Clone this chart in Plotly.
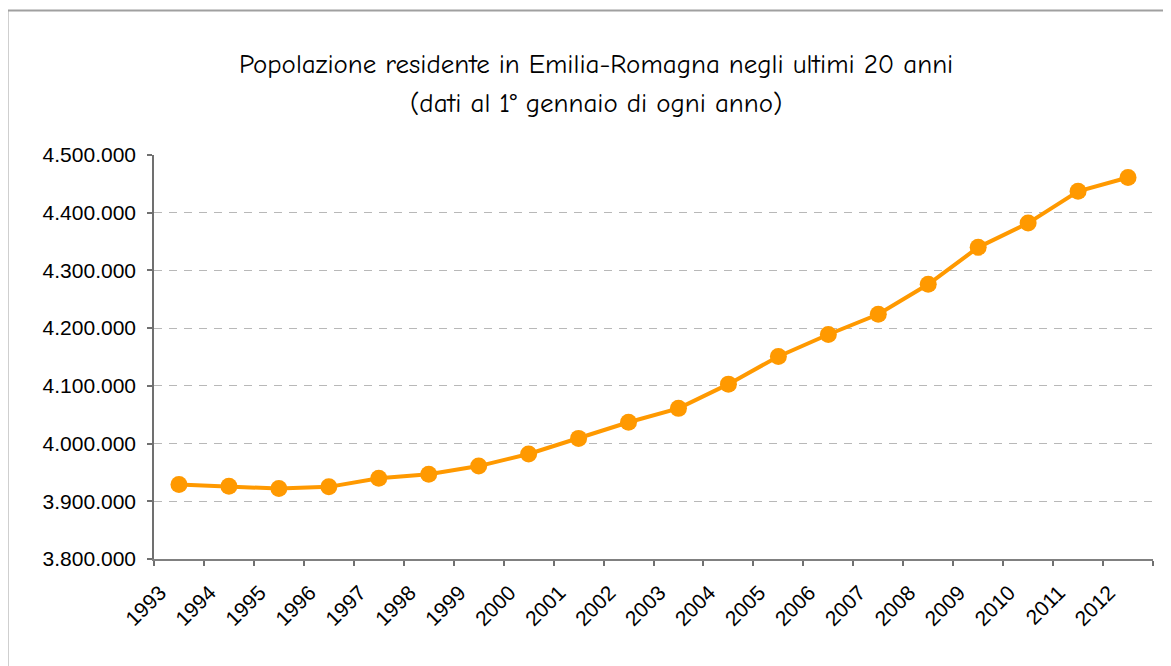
import plotly.graph_objects as go

years = [str(y) for y in range(1993, 2013)]
population = [3929000, 3926000, 3922000, 3925000, 3940000, 3947000, 3961000, 3982000,
              4009000, 4037000, 4061000, 4103000, 4151000, 4189000, 4224000, 4276000,
              4340000, 4382000, 4437000, 4461000]
y_ticks = [3800000, 3900000, 4000000, 4100000, 4200000, 4300000, 4400000, 4500000]
title_lines = ["Popolazione residente in Emilia-Romagna negli ultimi 20 anni",
               "(dati al 1° gennaio di ogni anno)"]

OFF = 8  # page body margin
W, H = 1171 - OFF, 666 - OFF
L, R, T, B = 154 - OFF, 18, 155 - OFF, 107
pw, ph = W - L - R, H - T - B

def px(x):
    return (x - OFF - L) / pw

def py(y):
    return (H - B - (y - OFF)) / ph

fig = go.Figure()
fig.add_trace(go.Scatter(
    x=years, y=population, mode="lines+markers",
    line=dict(color="#FF9900", width=4),
    marker=dict(color="#FF9900", size=17),
    hoverinfo="x+y", showlegend=False,
))

fig.update_layout(
    width=W, height=H,
    margin=dict(l=L, r=R, t=T, b=B, pad=0),
    paper_bgcolor="white", plot_bgcolor="white",
    separators=",.",
    font=dict(family="Liberation Sans, Arial, sans-serif", size=21, color="black"),
    xaxis=dict(
        type="category", range=[-0.5, 19.5],
        tickson="boundaries", ticks="outside", ticklen=5, tickwidth=1.5, tickcolor="#707070",
        showline=True, linecolor="#808080", linewidth=2,
        showgrid=False, tickangle=-45, zeroline=False,
        ticklabelshift=-19, ticklabelstandoff=11,
        tickfont=dict(size=21),
    ),
    yaxis=dict(
        range=[3800000, 4500000], tickvals=y_ticks, tickformat=",d",
        ticks="outside", ticklen=5, tickwidth=1.5, tickcolor="#707070",
        showline=True, linecolor="#707070", linewidth=1.5,
        showgrid=True, gridcolor="#b8b8b8", gridwidth=1, griddash="8px,7px",
        zeroline=False, ticklabelstandoff=7,
        tickfont=dict(size=21),
    ),
    shapes=[dict(type="rect", xref="paper", yref="paper",
                 x0=px(7.5), x1=px(1200), y0=py(700), y1=py(10.5),
                 line=dict(color="#a0a0a0", width=2), layer="below")],
    annotations=[
        dict(text=title_lines[0], xref="paper", yref="paper", x=px(596), y=py(64),
             showarrow=False, xanchor="center", yanchor="middle",
             font=dict(family="Comic Sans MS, Comic Neue, Open Sans, sans-serif", size=27)),
        dict(text=title_lines[1], xref="paper", yref="paper", x=px(596), y=py(103),
             showarrow=False, xanchor="center", yanchor="middle",
             font=dict(family="Comic Sans MS, Comic Neue, Open Sans, sans-serif", size=27)),
    ],
)

fig.write_html("out.html")
